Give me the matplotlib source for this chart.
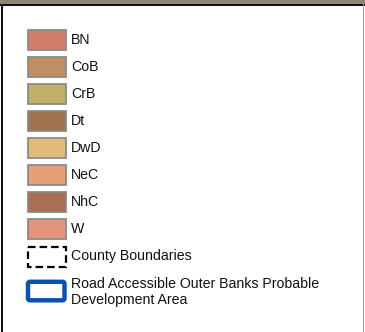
import matplotlib
matplotlib.use("Agg")
import matplotlib.pyplot as plt
from matplotlib.patches import Rectangle, FancyBboxPatch

plt.rcParams["font.family"] = ["Liberation Sans", "DejaVu Sans"]

# soil units shown in the legend
soil_labels = ["BN", "CoB", "CrB", "Dt", "DwD", "NeC", "NhC", "W"]
soil_colors = ["#cf7f69", "#bf8e62", "#bfb168", "#a07350", "#e0bc78",
               "#e6a078", "#aa6e55", "#e2957a"]

county_label = "County Boundaries"
road_label = "Road Accessible Outer Banks Probable\nDevelopment Area"

W, H = 365, 332
fig = plt.figure(figsize=(W / 100, H / 100), dpi=100)
ax = fig.add_axes([0, 0, 1, 1])
ax.set_xlim(0, W)
ax.set_ylim(H, 0)
ax.axis("off")

# frame pieces (map strip on top, dark left edge, grey right edge)
ax.add_patch(Rectangle((0, 0), W, 3.5, facecolor="#8c8576", edgecolor="none"))
ax.add_patch(Rectangle((0, 3.5), W, 2, facecolor="#111111", edgecolor="none"))
ax.add_patch(Rectangle((0.8, 3.5), 2, H, facecolor="#111111", edgecolor="none"))
ax.add_patch(Rectangle((362.8, 3.5), 1.4, H, facecolor="#a0a0a0", edgecolor="none"))

x0, pw, ph = 27.5, 38, 20
y0, step = 29.5, 27.1
tx = 71
fs = 10.2

for i, (lab, col) in enumerate(zip(soil_labels, soil_colors)):
    y = y0 + i * step
    ax.add_patch(Rectangle((x0, y), pw, ph, facecolor=col,
                           edgecolor="#8a8a8a", linewidth=1.3))
    ax.text(tx, y + ph / 2, lab, fontsize=fs, va="center", ha="left",
            color="#111111")

# county boundaries
y = y0 + len(soil_labels) * step
ax.add_patch(Rectangle((x0, y + 0.5), pw, ph, facecolor="none",
                       edgecolor="black", linewidth=1.6,
                       linestyle=(0, (3.4, 1.8))))
ax.text(tx, y + ph / 2, county_label, fontsize=fs, va="center", ha="left",
        color="#111111")

# probable development area
y = y + 34
ax.add_patch(FancyBboxPatch((x0 + 0.5, y + 1.5), pw - 1.5, ph - 1.5,
                            boxstyle="round,pad=0,rounding_size=2",
                            facecolor="white", edgecolor="#0a52b0",
                            linewidth=3.2))
ax.text(tx, y + 11.5, road_label, fontsize=fs, va="center", ha="left",
        color="#111111", linespacing=1.15)

fig.savefig("out.png", dpi=100)
